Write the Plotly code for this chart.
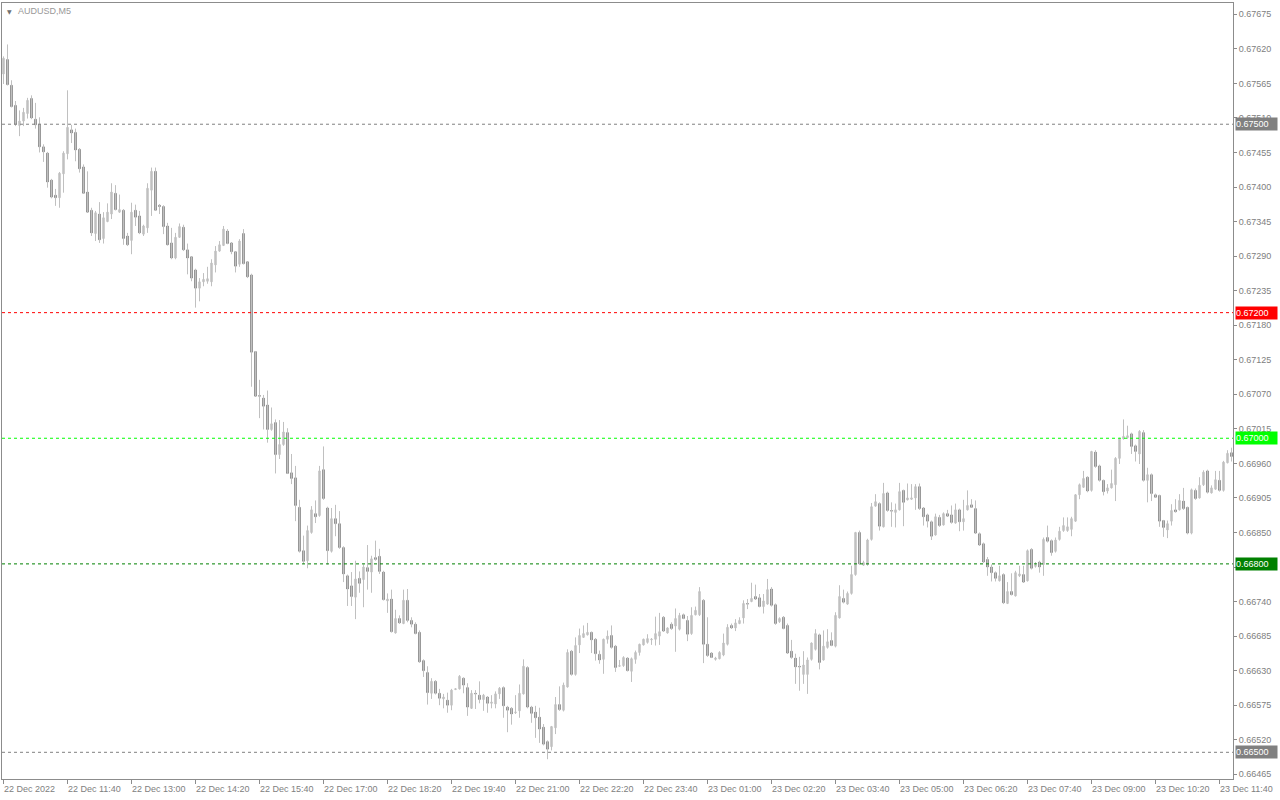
import plotly.graph_objects as go

# ---------------- data (AUDUSD M5, 22 Dec 2022 10:20 -> 23 Dec 2022 11:55) ----------------
open_ = [
0.67580,0.67603,0.67562,0.67530,0.67498,0.67505,0.67517,0.67541,0.67508,0.67500,
0.67464,0.67454,0.67411,0.67387,0.67383,0.67421,0.67453,0.67491,0.67487,0.67460,
0.67432,0.67392,0.67363,0.67326,0.67357,0.67318,0.67345,0.67357,0.67390,0.67360,
0.67363,0.67322,0.67315,0.67363,0.67354,0.67325,0.67335,0.67395,0.67425,0.67371,
0.67369,0.67338,0.67311,0.67287,0.67320,0.67336,0.67300,0.67289,0.67268,0.67239,
0.67249,0.67250,0.67249,0.67276,0.67298,0.67307,0.67330,0.67311,0.67297,0.67277,
0.67326,0.67281,0.67260,0.67138,0.67068,0.67064,0.67053,0.67014,0.67025,0.66974,
0.66990,0.67009,0.66945,0.66937,0.66890,0.66821,0.66805,0.66850,0.66880,0.66877,
0.66950,0.66889,0.66820,0.66872,0.66864,0.66826,0.66781,0.66765,0.66747,0.66777,
0.66775,0.66794,0.66787,0.66810,0.66812,0.66787,0.66741,0.66744,0.66690,0.66713,
0.66705,0.66742,0.66710,0.66704,0.66691,0.66646,0.66627,0.66594,0.66613,0.66594,
0.66585,0.66583,0.66575,0.66600,0.66601,0.66618,0.66603,0.66570,0.66594,0.66591,
0.66584,0.66588,0.66578,0.66577,0.66593,0.66603,0.66572,0.66570,0.66563,0.66566,
0.66593,0.66635,0.66572,0.66564,0.66556,0.66540,0.66517,0.66509,0.66539,0.66576,
0.66567,0.66604,0.66661,0.66624,0.66671,0.66683,0.66687,0.66691,0.66680,0.66656,
0.66648,0.66680,0.66686,0.66669,0.66637,0.66638,0.66650,0.66629,0.66648,0.66659,
0.66671,0.66675,0.66679,0.66680,0.66685,0.66715,0.66690,0.66704,0.66701,0.66696,
0.66719,0.66710,0.66689,0.66719,0.66719,0.66742,0.66672,0.66658,0.66648,0.66649,
0.66655,0.66672,0.66702,0.66698,0.66705,0.66714,0.66737,0.66740,0.66748,0.66746,
0.66732,0.66736,0.66760,0.66735,0.66708,0.66715,0.66702,0.66661,0.66650,0.66637,
0.66624,0.66624,0.66648,0.66664,0.66687,0.66647,0.66667,0.66678,0.66669,0.66714,
0.66745,0.66736,0.66753,0.66783,0.66850,0.66798,0.66799,0.66839,0.66892,0.66896,
0.66859,0.66913,0.66885,0.66882,0.66886,0.66917,0.66902,0.66903,0.66905,0.66923,
0.66889,0.66878,0.66867,0.66846,0.66874,0.66862,0.66880,0.66878,0.66865,0.66886,
0.66867,0.66886,0.66894,0.66888,0.66848,0.66832,0.66807,0.66795,0.66786,0.66773,
0.66783,0.66737,0.66756,0.66749,0.66781,0.66783,0.66773,0.66823,0.66796,0.66803,
0.66799,0.66842,0.66837,0.66820,0.66839,0.66853,0.66853,0.66855,0.66868,0.66910,
0.66922,0.66938,0.66917,0.66978,0.66956,0.66933,0.66916,0.66921,0.66926,0.66968,
0.66999,0.67001,0.67007,0.66988,0.66975,0.67009,0.66933,0.66942,0.66910,0.66909,
0.66869,0.66854,0.66868,0.66886,0.66886,0.66900,0.66890,0.66849,0.66917,0.66905,
0.66926,0.66948,0.66913,0.66919,0.66933,0.66917,0.66961,0.66977,
]

high = [
0.67608,0.67627,0.67570,0.67537,0.67522,0.67526,0.67542,0.67546,0.67534,0.67511,
0.67468,0.67456,0.67413,0.67397,0.67424,0.67457,0.67554,0.67499,0.67493,0.67462,
0.67436,0.67425,0.67367,0.67362,0.67376,0.67360,0.67374,0.67406,0.67403,0.67388,
0.67365,0.67327,0.67375,0.67372,0.67362,0.67340,0.67406,0.67431,0.67431,0.67373,
0.67371,0.67343,0.67335,0.67327,0.67342,0.67340,0.67310,0.67290,0.67270,0.67255,
0.67263,0.67273,0.67285,0.67306,0.67314,0.67338,0.67333,0.67312,0.67298,0.67317,
0.67333,0.67282,0.67262,0.67139,0.67093,0.67069,0.67076,0.67049,0.67030,0.67029,
0.67026,0.67016,0.66975,0.66956,0.66902,0.66845,0.66861,0.66892,0.66901,0.66956,
0.66987,0.66891,0.66889,0.66894,0.66884,0.66828,0.66783,0.66787,0.66805,0.66788,
0.66799,0.66830,0.66813,0.66837,0.66824,0.66789,0.66753,0.66759,0.66727,0.66718,
0.66759,0.66760,0.66715,0.66707,0.66694,0.66648,0.66637,0.66618,0.66615,0.66601,
0.66593,0.66595,0.66601,0.66602,0.66623,0.66619,0.66610,0.66599,0.66599,0.66613,
0.66593,0.66589,0.66591,0.66597,0.66604,0.66605,0.66574,0.66572,0.66591,0.66608,
0.66648,0.66637,0.66574,0.66574,0.66571,0.66545,0.66519,0.66542,0.66588,0.66605,
0.66611,0.66664,0.66663,0.66683,0.66697,0.66702,0.66706,0.66692,0.66682,0.66662,
0.66681,0.66694,0.66702,0.66671,0.66647,0.66653,0.66651,0.66651,0.66662,0.66673,
0.66681,0.66688,0.66682,0.66716,0.66722,0.66717,0.66699,0.66707,0.66729,0.66722,
0.66721,0.66717,0.66731,0.66732,0.66763,0.66744,0.66715,0.66659,0.66652,0.66661,
0.66689,0.66704,0.66705,0.66712,0.66715,0.66742,0.66744,0.66770,0.66767,0.66752,
0.66752,0.66776,0.66763,0.66737,0.66715,0.66717,0.66705,0.66679,0.66657,0.66652,
0.66661,0.66651,0.66675,0.66696,0.66689,0.66694,0.66696,0.66691,0.66723,0.66766,
0.66759,0.66756,0.66797,0.66851,0.66853,0.66805,0.66840,0.66897,0.66911,0.66898,
0.66929,0.66915,0.66898,0.66896,0.66929,0.66918,0.66928,0.66927,0.66927,0.66928,
0.66890,0.66880,0.66869,0.66880,0.66878,0.66882,0.66886,0.66893,0.66896,0.66888,
0.66902,0.66917,0.66903,0.66901,0.66850,0.66834,0.66811,0.66799,0.66788,0.66797,
0.66785,0.66771,0.66785,0.66789,0.66797,0.66797,0.66823,0.66825,0.66803,0.66805,
0.66842,0.66861,0.66839,0.66842,0.66859,0.66874,0.66874,0.66875,0.66911,0.66928,
0.66948,0.66939,0.66980,0.66981,0.66958,0.66934,0.66927,0.66950,0.66970,0.67001,
0.67030,0.67020,0.67009,0.66990,0.67013,0.67013,0.66953,0.66944,0.66912,0.66910,
0.66870,0.66869,0.66895,0.66903,0.66911,0.66921,0.66891,0.66920,0.66920,0.66938,
0.66949,0.66950,0.66925,0.66948,0.66948,0.66964,0.66981,0.66985,
]

low = [
0.67564,0.67562,0.67527,0.67497,0.67481,0.67497,0.67509,0.67508,0.67493,0.67455,
0.67440,0.67399,0.67382,0.67370,0.67367,0.67391,0.67444,0.67470,0.67441,0.67423,
0.67389,0.67359,0.67322,0.67314,0.67311,0.67310,0.67344,0.67349,0.67363,0.67359,
0.67308,0.67306,0.67293,0.67338,0.67325,0.67322,0.67327,0.67354,0.67362,0.67357,
0.67325,0.67308,0.67285,0.67285,0.67319,0.67298,0.67261,0.67250,0.67208,0.67218,
0.67242,0.67246,0.67242,0.67264,0.67297,0.67306,0.67309,0.67293,0.67264,0.67273,
0.67277,0.67255,0.67082,0.67066,0.67032,0.67014,0.66993,0.67012,0.66944,0.66967,
0.66988,0.66943,0.66927,0.66868,0.66818,0.66800,0.66793,0.66848,0.66865,0.66875,
0.66902,0.66799,0.66818,0.66844,0.66824,0.66771,0.66733,0.66733,0.66712,0.66754,
0.66731,0.66759,0.66754,0.66805,0.66784,0.66742,0.66722,0.66691,0.66689,0.66705,
0.66704,0.66707,0.66699,0.66688,0.66643,0.66620,0.66576,0.66585,0.66592,0.66575,
0.66570,0.66563,0.66567,0.66599,0.66600,0.66594,0.66558,0.66569,0.66569,0.66578,
0.66566,0.66563,0.66570,0.66570,0.66585,0.66555,0.66532,0.66544,0.66561,0.66555,
0.66592,0.66570,0.66547,0.66523,0.66515,0.66511,0.66489,0.66503,0.66529,0.66566,
0.66565,0.66603,0.66622,0.66622,0.66658,0.66682,0.66686,0.66658,0.66646,0.66641,
0.66625,0.66673,0.66665,0.66628,0.66636,0.66636,0.66629,0.66612,0.66641,0.66654,
0.66670,0.66673,0.66671,0.66670,0.66671,0.66692,0.66689,0.66695,0.66660,0.66694,
0.66712,0.66677,0.66687,0.66718,0.66717,0.66642,0.66652,0.66650,0.66646,0.66648,
0.66653,0.66670,0.66697,0.66693,0.66704,0.66705,0.66728,0.66739,0.66743,0.66731,
0.66721,0.66735,0.66732,0.66703,0.66706,0.66696,0.66657,0.66649,0.66609,0.66598,
0.66609,0.66593,0.66646,0.66662,0.66632,0.66646,0.66665,0.66669,0.66667,0.66713,
0.66737,0.66735,0.66751,0.66781,0.66799,0.66797,0.66797,0.66837,0.66891,0.66853,
0.66858,0.66883,0.66859,0.66858,0.66885,0.66860,0.66901,0.66902,0.66886,0.66886,
0.66861,0.66858,0.66838,0.66845,0.66859,0.66861,0.66875,0.66864,0.66864,0.66852,
0.66853,0.66885,0.66889,0.66848,0.66829,0.66802,0.66781,0.66772,0.66772,0.66772,
0.66736,0.66736,0.66750,0.66748,0.66779,0.66770,0.66772,0.66791,0.66794,0.66786,
0.66781,0.66834,0.66813,0.66818,0.66837,0.66851,0.66851,0.66844,0.66867,0.66903,
0.66921,0.66914,0.66915,0.66953,0.66931,0.66909,0.66912,0.66920,0.66900,0.66959,
0.66998,0.66999,0.66975,0.66963,0.66959,0.66931,0.66898,0.66900,0.66905,0.66859,
0.66843,0.66841,0.66861,0.66882,0.66885,0.66886,0.66847,0.66847,0.66902,0.66904,
0.66924,0.66912,0.66912,0.66918,0.66915,0.66915,0.66960,0.66963,
]

close = [
0.67605,0.67563,0.67528,0.67500,0.67505,0.67519,0.67538,0.67510,0.67499,0.67464,
0.67456,0.67408,0.67384,0.67383,0.67422,0.67454,0.67495,0.67486,0.67459,0.67429,
0.67390,0.67360,0.67327,0.67359,0.67316,0.67351,0.67360,0.67392,0.67364,0.67364,
0.67318,0.67308,0.67360,0.67352,0.67327,0.67338,0.67398,0.67425,0.67363,0.67369,
0.67337,0.67308,0.67287,0.67320,0.67337,0.67300,0.67287,0.67255,0.67239,0.67249,
0.67253,0.67254,0.67279,0.67298,0.67308,0.67333,0.67310,0.67297,0.67274,0.67314,
0.67278,0.67257,0.67137,0.67067,0.67067,0.67051,0.67014,0.67023,0.66974,0.66990,
0.67010,0.66944,0.66936,0.66893,0.66820,0.66804,0.66853,0.66886,0.66875,0.66948,
0.66904,0.66821,0.66872,0.66864,0.66826,0.66784,0.66760,0.66748,0.66776,0.66769,
0.66795,0.66788,0.66808,0.66807,0.66788,0.66743,0.66744,0.66692,0.66713,0.66706,
0.66742,0.66710,0.66704,0.66689,0.66644,0.66630,0.66595,0.66613,0.66594,0.66586,
0.66588,0.66575,0.66599,0.66601,0.66621,0.66607,0.66572,0.66594,0.66593,0.66584,
0.66591,0.66578,0.66580,0.66593,0.66602,0.66574,0.66567,0.66561,0.66564,0.66594,
0.66637,0.66572,0.66562,0.66555,0.66537,0.66513,0.66505,0.66541,0.66576,0.66568,
0.66607,0.66659,0.66624,0.66670,0.66686,0.66689,0.66691,0.66679,0.66657,0.66647,
0.66680,0.66685,0.66667,0.66635,0.66638,0.66651,0.66630,0.66649,0.66659,0.66672,
0.66680,0.66681,0.66680,0.66689,0.66692,0.66693,0.66698,0.66697,0.66713,0.66718,
0.66713,0.66688,0.66718,0.66726,0.66756,0.66672,0.66654,0.66651,0.66650,0.66659,
0.66674,0.66699,0.66698,0.66706,0.66710,0.66737,0.66736,0.66745,0.66744,0.66732,
0.66741,0.66759,0.66734,0.66705,0.66713,0.66697,0.66658,0.66651,0.66636,0.66636,
0.66639,0.66647,0.66674,0.66689,0.66643,0.66669,0.66676,0.66670,0.66718,0.66748,
0.66739,0.66753,0.66783,0.66850,0.66800,0.66802,0.66838,0.66891,0.66899,0.66860,
0.66912,0.66885,0.66884,0.66886,0.66915,0.66898,0.66905,0.66905,0.66923,0.66888,
0.66875,0.66868,0.66844,0.66875,0.66861,0.66880,0.66876,0.66866,0.66886,0.66867,
0.66872,0.66893,0.66890,0.66849,0.66830,0.66803,0.66795,0.66786,0.66777,0.66781,
0.66738,0.66756,0.66751,0.66786,0.66784,0.66771,0.66821,0.66793,0.66798,0.66795,
0.66839,0.66836,0.66818,0.66838,0.66852,0.66861,0.66859,0.66872,0.66910,0.66926,
0.66936,0.66916,0.66979,0.66955,0.66933,0.66915,0.66921,0.66928,0.66968,0.66999,
0.67003,0.67004,0.66987,0.66979,0.67011,0.66933,0.66942,0.66912,0.66906,0.66868,
0.66858,0.66864,0.66885,0.66883,0.66901,0.66888,0.66849,0.66918,0.66904,0.66925,
0.66946,0.66914,0.66921,0.66934,0.66917,0.66962,0.66976,0.66971,
]

# x tick labels (one every 16 bars = 80 minutes)
x_tick_labels = [
    "22 Dec 2022", "22 Dec 11:40", "22 Dec 13:00", "22 Dec 14:20", "22 Dec 15:40",
    "22 Dec 17:00", "22 Dec 18:20", "22 Dec 19:40", "22 Dec 21:00", "22 Dec 22:20",
    "22 Dec 23:40", "23 Dec 01:00", "23 Dec 02:20", "23 Dec 03:40", "23 Dec 05:00",
    "23 Dec 06:20", "23 Dec 07:40", "23 Dec 09:00", "23 Dec 10:20", "23 Dec 11:40",
]
BARS_PER_LABEL = 16

# price axis ticks
y_ticks = [0.66465, 0.66520, 0.66575, 0.66630, 0.66685, 0.66740, 0.66795, 0.66850,
           0.66905, 0.66960, 0.67015, 0.67070, 0.67125, 0.67180, 0.67235, 0.67290,
           0.67345, 0.67400, 0.67455, 0.67510, 0.67565, 0.67620, 0.67675]

# horizontal levels
level_prices = [0.67500, 0.67200, 0.67000, 0.66800, 0.66500]
level_colors = ["#808080", "#ff0000", "#00ff00", "#008000", "#808080"]

# ---------------- figure ----------------
n = len(close)
xs = list(range(n))
x_tick_vals = [i * BARS_PER_LABEL for i in range(len(x_tick_labels))]

BULL = "#c0c0c0"
BEAR = "#777777"
AXIS = "#8c8c8c"
TXT = "#808080"
FONT = "Liberation Sans"

fig = go.Figure()

# wicks (light grey for every candle)
wx, wy = [], []
for i in range(n):
    wx += [i, i, None]
    wy += [min(low[i], open_[i], close[i]), max(high[i], open_[i], close[i]), None]
fig.add_trace(go.Scatter(x=wx, y=wy, mode="lines", line=dict(color=BULL, width=1),
                         hoverinfo="skip", showlegend=False))

# bodies
body_hi = [max(o, c) for o, c in zip(open_, close)]
body_lo = [min(o, c) for o, c in zip(open_, close)]
fig.add_trace(go.Candlestick(
    x=xs, open=open_, high=body_hi, low=body_lo, close=close,
    increasing=dict(line=dict(color=BULL, width=1), fillcolor=BULL),
    decreasing=dict(line=dict(color=BEAR, width=1), fillcolor=BEAR),
    whiskerwidth=0, showlegend=False,
))

shapes = []
annotations = []
for p, col in zip(level_prices, level_colors):
    shapes.append(dict(type="line", xref="paper", x0=0, x1=1, yref="y", y0=p, y1=p,
                       line=dict(color=col, width=1, dash="3px,3px"), layer="above"))
    annotations.append(dict(xref="paper", x=1, xanchor="left", xshift=2,
                            yref="y", y=p, yanchor="middle", text=f"{p:.5f}",
                            showarrow=False, bgcolor=col, borderpad=0,
                            width=41, height=12, align="left",
                            font=dict(family=FONT, size=9, color="#ffffff")))

for tv, tl in zip(x_tick_vals, x_tick_labels):
    annotations.append(dict(xref="x", x=tv, xanchor="left", xshift=-2,
                            yref="paper", y=0, yanchor="top", yshift=-3,
                            text=tl, showarrow=False,
                            font=dict(family=FONT, size=9, color=TXT)))

annotations.append(dict(xref="paper", x=0, xanchor="left", xshift=3,
                        yref="paper", y=1, yanchor="top", yshift=-3,
                        text="▼", showarrow=False,
                        font=dict(family="DejaVu Sans", size=6, color="#707070")))
annotations.append(dict(xref="paper", x=0, xanchor="left", xshift=14,
                        yref="paper", y=1, yanchor="top", yshift=-1,
                        text="AUDUSD,M5", showarrow=False,
                        font=dict(family=FONT, size=9, color="#999999")))

fig.update_layout(
    width=1280, height=800,
    margin=dict(l=2, r=47, t=3, b=21),
    paper_bgcolor="white", plot_bgcolor="white",
    showlegend=False, boxgap=0.5,
    shapes=shapes, annotations=annotations,
    font=dict(family=FONT, size=9, color=TXT),
    xaxis=dict(range=[-0.375, n - 0.625], showgrid=False, zeroline=False,
               showline=True, mirror=True, linecolor=AXIS, linewidth=1,
               ticks="outside", ticklen=4, tickcolor=AXIS,
               tickvals=x_tick_vals, showticklabels=False,
               rangeslider=dict(visible=False), fixedrange=True),
    yaxis=dict(side="right", range=[0.664575, 0.676930], showgrid=False, zeroline=False,
               showline=True, mirror=True, linecolor=AXIS, linewidth=1,
               ticks="outside", ticklen=3, tickcolor=AXIS,
               tickvals=y_ticks, tickformat=".5f",
               tickfont=dict(family=FONT, size=9, color=TXT), fixedrange=True),
)

fig.write_html(
    "out.html",
    config={"displayModeBar": False},
    post_script="document.body.style.margin='0';document.body.style.overflow='hidden';",
)
